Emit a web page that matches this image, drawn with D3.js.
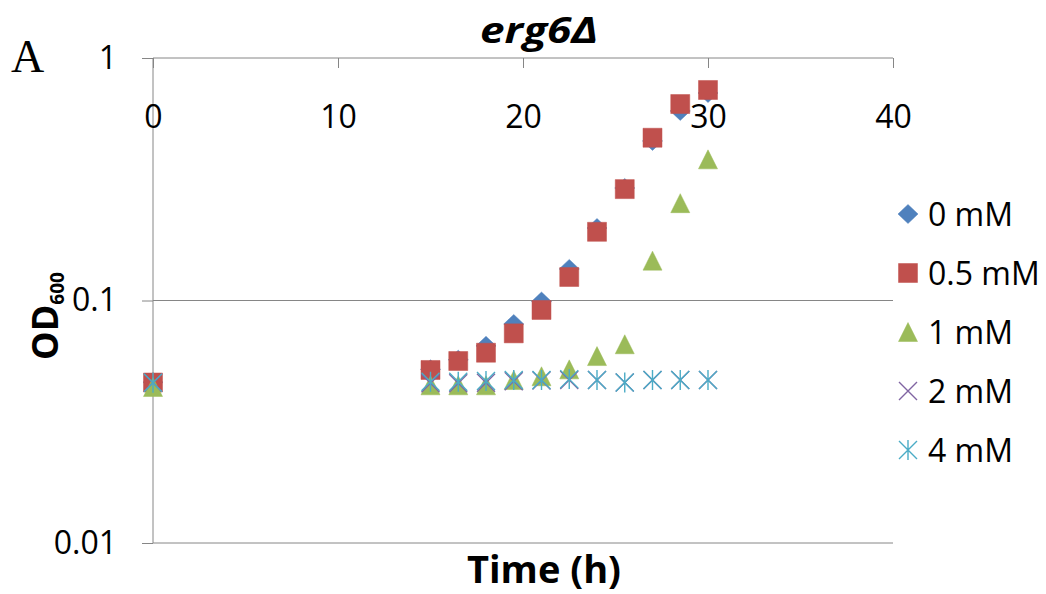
<!DOCTYPE html>
<html>
<head>
<meta charset="utf-8">
<script src="https://cdn.jsdelivr.net/npm/d3@7"></script>
<style>
  body { margin: 0; background: #fff; }
  svg { display: block; }
  .axis path, .axis line { stroke: #868686; stroke-width: 1; }
  .axis text { font-family: "Open Sans", sans-serif; font-size: 32px; fill: #000; }
</style>
</head>
<body>
<script>
// Data (OD600 per time point)
const time   = [0, 15, 16.5, 18, 19.5, 21, 22.5, 24, 25.5, 27, 28.5, 30];
const mM0    = [0.046, 0.052, 0.057, 0.065, 0.080, 0.099, 0.135, 0.199, 0.291, 0.455, 0.605, 0.717];
const mM05   = [0.0459, 0.0517, 0.0563, 0.0609, 0.0732, 0.0914, 0.125, 0.192, 0.288, 0.469, 0.646, 0.738];
const mM1    = [0.044, 0.0447, 0.0447, 0.0447, 0.047, 0.0487, 0.052, 0.059, 0.066, 0.146, 0.252, 0.382];
const mM2    = [0.0458, 0.0456, 0.0456, 0.0458, 0.0465, 0.0468, 0.047, 0.047, 0.0459, 0.047, 0.047, 0.047];
const mM4    = [0.0458, 0.0462, 0.0462, 0.0466, 0.047, 0.047, 0.0474, 0.047, 0.0459, 0.047, 0.047, 0.047];
const seriesNames = ["0 mM", "0.5 mM", "1 mM", "2 mM", "4 mM"];
const xTicks = [0, 10, 20, 30, 40];
const yTicks = [0.01, 0.1, 1];

const width = 1046, height = 594;
const colors = ["#4F81BD", "#C0504D", "#9BBB59", "#8064A2", "#4BACC6"];
const shapes = ["diamond", "square", "triangle", "cross", "star"];
const seriesValues = [mM0, mM05, mM1, mM2, mM4];

const svg = d3.select("body").append("svg")
    .attr("width", width)
    .attr("height", height);

// Scales
var x = d3.scaleLinear().domain([0, 40]).range([153, 893]);
var y = d3.scaleLog().domain([0.01, 1]).range([543, 58]);

// Horizontal gridlines
svg.append("g")
    .selectAll("line").data(yTicks)
    .enter().append("line")
    .attr("x1", x(0)).attr("x2", x(40))
    .attr("y1", d => y(d)).attr("y2", d => y(d))
    .attr("stroke", "#868686");

// Y axis
svg.append("g")
    .attr("class", "axis")
    .attr("transform", `translate(${x(0)},0)`)
    .call(d3.axisLeft(y).tickValues(yTicks).tickSize(11).tickPadding(25)
        .tickFormat(d => d === 1 ? "1" : d === 0.1 ? "0.1" : "0.01"))
    .call(g => g.select(".domain").attr("d", `M0,${y(1)}V${y(0.01)}`));

// X axis sits on the top (value 1) with ticks pointing down
svg.append("g")
    .attr("class", "axis")
    .attr("transform", `translate(0,${y(1)})`)
    .call(d3.axisBottom(x).tickValues(xTicks).tickSize(10).tickPadding(37))
    .call(g => g.select(".domain").remove());

// Marker shapes
function marker(shape) {
    switch (shape) {
        case "diamond": return "M0,-9.5L10,0L0,9.5L-10,0Z";
        case "square": return "M-9.5,-9.5H9.5V9.5H-9.5Z";
        case "triangle": return "M0,-9.5L9.5,9.5H-9.5Z";
        case "cross": return "M-9,-9L9,9M-9,9L9,-9";
        case "star": return "M-9,-9L9,9M-9,9L9,-9M0,-10V10";
    }
}
function drawMarker(sel, i) {
    const filled = i < 3;
    sel.append("path")
        .attr("d", marker(shapes[i]))
        .attr("fill", filled ? colors[i] : "none")
        .attr("stroke", colors[i])
        .attr("stroke-width", filled ? 0.5 : 1.4);
}

// Points
seriesValues.forEach((vals, i) => {
    svg.append("g").selectAll("g").data(vals)
        .enter().append("g")
        .attr("transform", (d, j) => `translate(${x(time[j])},${y(d)})`)
        .each(function() { drawMarker(d3.select(this), i); });
});

// Legend
const legend = svg.append("g");
seriesNames.forEach((name, i) => {
    const cy = 214 + i * 59;
    const item = legend.append("g").attr("transform", `translate(908,${cy})`);
    drawMarker(item, i);
    legend.append("text")
        .attr("x", 928).attr("y", cy + 11.5)
        .attr("font-family", "Open Sans, sans-serif")
        .attr("font-size", 32)
        .text(name);
});

// Title
svg.append("text")
    .attr("x", 539).attr("y", 43)
    .attr("text-anchor", "middle")
    .attr("font-family", "Open Sans, sans-serif")
    .attr("font-size", 36)
    .attr("font-weight", "bold")
    .attr("font-style", "italic")
    .attr("textLength", 118)
    .attr("lengthAdjust", "spacingAndGlyphs")
    .text("erg6Δ");

// Panel letter
svg.append("text")
    .attr("x", 11).attr("y", 72)
    .attr("font-family", "Liberation Serif, serif")
    .attr("font-size", 46)
    .text("A");

// X axis title
svg.append("text")
    .attr("x", 544).attr("y", 583)
    .attr("text-anchor", "middle")
    .attr("font-family", "Open Sans, sans-serif")
    .attr("font-size", 38)
    .attr("font-weight", "bold")
    .text("Time (h)");

// Y axis title
var yTitle = svg.append("text")
    .attr("transform", "translate(58,316) rotate(-90)")
    .attr("text-anchor", "middle")
    .attr("font-family", "Open Sans, sans-serif")
    .attr("font-size", 36)
    .attr("font-weight", "bold");
yTitle.append("tspan").text("OD");
yTitle.append("tspan").attr("font-size", 19).attr("dy", 6).text("600");
</script>
</body>
</html>
